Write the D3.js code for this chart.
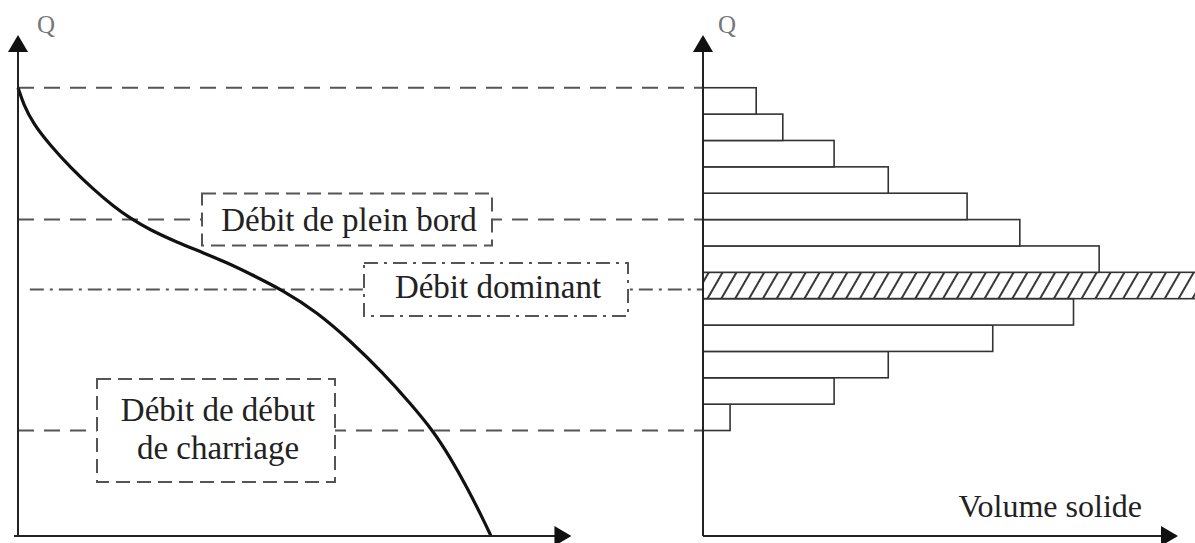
<!DOCTYPE html>
<html>
<head>
<meta charset="utf-8">
<script src="https://cdn.jsdelivr.net/npm/d3@7"></script>
<style>
  body { margin: 0; background: #fff; }
  text { font-family: "Liberation Serif", "Times New Roman", serif; fill: #222; }
</style>
</head>
<body>
<div id="chart"></div>
<script>
var width = 1195, height = 543;

// flow duration curve (time exceeded in %, discharge)
var curveDuration = [0, 1.1, 3.2, 6.8, 11.0, 15.9, 20.2, 23.7, 27.9, 33.6, 39.2, 44.1, 49.1, 56.1, 63.2, 70.2, 77.2, 82.9, 87.8, 91.3, 94.9, 98.4, 100];
var curveQ = [17, 16.4, 15.64, 14.82, 13.99, 13.15, 12.5, 12.05, 11.61, 11.14, 10.74, 10.37, 9.94, 9.31, 8.49, 7.41, 6.18, 5.04, 3.98, 3.0, 1.86, 0.61, 0];

// solid volume per discharge class (lower bound of class)
var classQ = [4, 5, 6, 7, 8, 9, 10, 11, 12, 13, 14, 15, 16];
var classVolume = [5.7, 27.6, 39, 61, 78, 105, 83.4, 66.7, 55.6, 39, 27.6, 16.8, 11.2];
var dominantClass = 9;

// reference discharges
var qMax = 17;
var qFullBank = 12;
var qDominant = 9.35;
var qBedload = 4;

var svg = d3.select("#chart")
            .append("svg")
              .attr("width", width)
              .attr("height", height);

var yQ = d3.scaleLinear().domain([0, 19]).range([536, 35]);
var xDur = d3.scaleLinear().domain([0, 100]).range([18, 491]);
var xVol = d3.scaleLinear().domain([0, 100]).range([703, 1178]);

var defs = svg.append("defs");
defs.append("pattern")
    .attr("id", "hatch")
    .attr("patternUnits", "userSpaceOnUse")
    .attr("width", 12)
    .attr("height", 12)
    .attr("patternTransform", "rotate(30)")
  .append("line")
    .attr("x1", 6).attr("y1", 0)
    .attr("x2", 6).attr("y2", 12)
    .attr("stroke", "#222")
    .attr("stroke-width", 1.8);

var dash = "16 10";
var dashBox = "14 7";
var dashDot = "14 6 3 6";

// histogram bars
var bars = classQ.map((q, i) => ({q: q, v: classVolume[i]}));
svg.selectAll(".bar")
   .data(bars)
   .enter()
   .append("rect")
     .attr("class", "bar")
     .attr("x", xVol(0))
     .attr("y", d => yQ(d.q + 1))
     .attr("width", d => xVol(d.v) - xVol(0))
     .attr("height", d => yQ(d.q) - yQ(d.q + 1))
     .attr("fill", d => d.q === dominantClass ? "url(#hatch)" : "#fff")
     .attr("stroke", "#333")
     .attr("stroke-width", 1.6);

// horizontal reference lines
function hline(q, x0, x1, dasharray) {
  svg.append("line")
     .attr("x1", x0).attr("x2", x1)
     .attr("y1", yQ(q)).attr("y2", yQ(q))
     .attr("stroke", "#555")
     .attr("stroke-width", 2)
     .attr("stroke-dasharray", dasharray);
}
hline(qMax, xDur(0), xVol(0), dash);
hline(qFullBank, xDur(0), xVol(0), dash);
hline(qBedload, xDur(0), xVol(0), dash);
hline(qDominant, xDur(2.5), xVol(0), dashDot);

// flow duration curve
var line = d3.line()
             .x(d => xDur(d[0]))
             .y(d => yQ(d[1]))
             .curve(d3.curveBasis);
svg.append("path")
   .datum(curveDuration.map((t, i) => [t, curveQ[i]]))
   .attr("d", line)
   .attr("fill", "none")
   .attr("stroke", "#111")
   .attr("stroke-width", 3.2);

// label boxes
function labelBox(cx, q, w, h, dasharray, lines, dy) {
  var cy = yQ(q);
  svg.append("rect")
     .attr("x", cx - w / 2).attr("y", cy - h / 2)
     .attr("width", w).attr("height", h)
     .attr("fill", "#fff")
     .attr("stroke", "#555")
     .attr("stroke-width", 2)
     .attr("stroke-dasharray", dasharray);
  lines.forEach((t, i) => {
    svg.append("text")
       .attr("x", cx + 2)
       .attr("y", cy + dy[i])
       .attr("text-anchor", "middle")
       .attr("font-size", 33)
       .text(t);
  });
}
labelBox(347, qFullBank, 290, 52, dashBox, ["Débit de plein bord"], [11]);
labelBox(496, qDominant, 264, 53, dashDot, ["Débit dominant"], [9]);
labelBox(216, qBedload, 238, 103, dashBox, ["Débit de début", "de charriage"], [-10, 28]);

// axes with arrows
function axis(x0, y0, x1, y1) {
  svg.append("line")
     .attr("x1", x0).attr("y1", y0)
     .attr("x2", x1).attr("y2", y1)
     .attr("stroke", "#222")
     .attr("stroke-width", 2);
}
function arrow(x, y, dir) {
  var p = dir === "up"
    ? [[x, y], [x - 10, y + 17], [x + 10, y + 17]]
    : [[x, y], [x - 17, y - 10], [x - 17, y + 10]];
  svg.append("path")
     .attr("d", "M" + p.join("L") + "Z")
     .attr("fill", "#111");
}
axis(xDur(0), yQ(0), xDur(0), yQ(19) + 10);
axis(xDur(0) - 4, yQ(0), xDur(117) - 10, yQ(0));
arrow(xDur(0), yQ(19), "up");
arrow(xDur(117), yQ(0), "right");

axis(xVol(0), yQ(0), xVol(0), yQ(19) + 10);
axis(xVol(0), yQ(0), xVol(100) - 10, yQ(0));
arrow(xVol(0), yQ(19), "up");
arrow(xVol(100), yQ(0), "right");

svg.append("text")
   .attr("x", xDur(0) + 19).attr("y", 33)
   .attr("font-size", 25)
   .style("fill", "#777")
   .text("Q");
svg.append("text")
   .attr("x", xVol(0) + 15).attr("y", 33)
   .attr("font-size", 25)
   .style("fill", "#777")
   .text("Q");

svg.append("text")
   .attr("x", 1142).attr("y", 517)
   .attr("text-anchor", "end")
   .attr("font-size", 32)
   .text("Volume solide");
</script>
</body>
</html>
